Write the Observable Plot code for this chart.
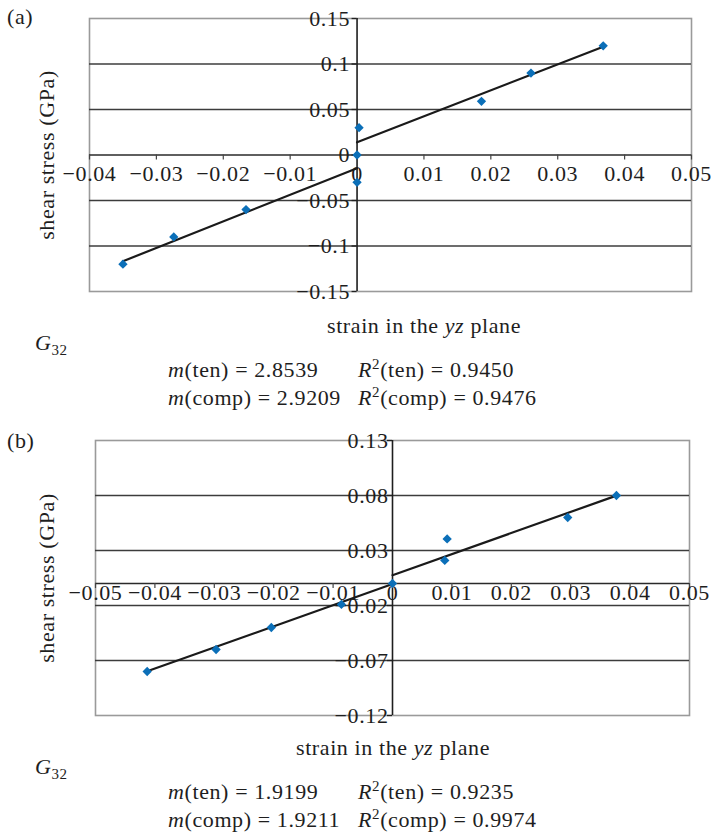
<!DOCTYPE html>
<html>
<head>
<meta charset="utf-8">
<script src="https://cdn.jsdelivr.net/npm/d3@7"></script>
<script src="https://cdn.jsdelivr.net/npm/@observablehq/plot@0.6"></script>
<style>
  html, body { margin: 0; padding: 0; background: #fff; }
  #page { position: relative; width: 711px; height: 832px; font-family: "Liberation Serif", "Times New Roman", "DejaVu Serif", serif; color: #1e1e1e; }
  .t { position: absolute; font-size: 22px; line-height: 22px; white-space: nowrap; letter-spacing: 0.6px; }
  .c { text-align: center; width: 400px; }
  .rot { width: 300px; text-align: center; transform: translate(-50%, -50%) rotate(-90deg); }
  .plot { position: absolute; left: 0; }
  i { font-style: italic; }
  sup, sub { font-size: 15px; line-height: 0; }
</style>
</head>
<body>
<div id="page">
  <div class="t" style="left:7px;top:6px">(a)</div>
  <div class="plot" id="pa" style="top:0px"></div>
  <div class="t rot" style="left:47px;top:155px">shear stress (GPa)</div>
  <div class="t c" style="left:224px;top:315px">strain in the <i>yz</i> plane</div>
  <div class="t" style="left:35px;top:332px"><i>G</i><sub>32</sub></div>
  <div class="t" style="left:168px;top:359px"><i>m</i>(ten) = 2.8539</div>
  <div class="t" style="left:358px;top:359px"><i>R</i><sup>2</sup>(ten) = 0.9450</div>
  <div class="t" style="left:168px;top:387px"><i>m</i>(comp) = 2.9209</div>
  <div class="t" style="left:358px;top:387px"><i>R</i><sup>2</sup>(comp) = 0.9476</div>

  <div class="t" style="left:7px;top:430px">(b)</div>
  <div class="plot" id="pb" style="top:420px"></div>
  <div class="t rot" style="left:47px;top:578px">shear stress (GPa)</div>
  <div class="t c" style="left:193px;top:737px">strain in the <i>yz</i> plane</div>
  <div class="t" style="left:35px;top:756px"><i>G</i><sub>32</sub></div>
  <div class="t" style="left:168px;top:781px"><i>m</i>(ten) = 1.9199</div>
  <div class="t" style="left:358px;top:781px"><i>R</i><sup>2</sup>(ten) = 0.9235</div>
  <div class="t" style="left:168px;top:809px"><i>m</i>(comp) = 1.9211</div>
  <div class="t" style="left:358px;top:809px"><i>R</i><sup>2</sup>(comp) = 0.9974</div>
</div>
<script>
// ---------- Panel (a) data ----------
const xTicksA = [-0.04, -0.03, -0.02, -0.01, 0, 0.01, 0.02, 0.03, 0.04, 0.05];
const xLabelsA = ["−0.04", "−0.03", "−0.02", "−0.01", "0", "0.01", "0.02", "0.03", "0.04", "0.05"];
const yTicksA = [-0.15, -0.1, -0.05, 0, 0.05, 0.1, 0.15];
const yLabelsA = ["−0.15", "−0.1", "−0.05", "0", "0.05", "0.1", "0.15"];
const strainA = [-0.035, -0.0274, -0.0166, 0, 0, 0.0003, 0.0186, 0.026, 0.0368];
const stressA = [-0.12, -0.09, -0.06, -0.03, 0, 0.03, 0.059, 0.09, 0.12];
// fitted lines: slope, intercept, strain range
const fitSlopeA = [2.9209, 2.8539];
const fitInterceptA = [-0.0145, 0.014];
const fitStartA = [-0.035, 0];
const fitEndA = [0, 0.0368];

// ---------- Panel (b) data ----------
const xTicksB = [-0.05, -0.04, -0.03, -0.02, -0.01, 0, 0.01, 0.02, 0.03, 0.04, 0.05];
const xLabelsB = ["−0.05", "−0.04", "−0.03", "−0.02", "−0.01", "0", "0.01", "0.02", "0.03", "0.04", "0.05"];
const yTicksB = [-0.12, -0.07, -0.02, 0.03, 0.08, 0.13];
const yLabelsB = ["−0.12", "−0.07", "−0.02", "0.03", "0.08", "0.13"];
const strainB = [-0.0413, -0.0297, -0.0204, -0.0086, 0, 0.0088, 0.0092, 0.0295, 0.0377];
const stressB = [-0.08, -0.06, -0.04, -0.019, 0, 0.021, 0.0405, 0.060, 0.080];
const fitSlopeB = [1.9211, 1.9199];
const fitInterceptB = [-0.0005, 0.0075];
const fitStartB = [-0.0413, 0];
const fitEndB = [0, 0.0377];

const BLUE = "#0b6fb8";
const FONT = "'Liberation Serif', 'Times New Roman', 'DejaVu Serif', serif";

function panel(o) {
  const pts = o.strain.map((x, i) => ({x, y: o.stress[i]}));
  const fits = o.slope.map((m, i) => [
    {x: o.start[i], y: m * o.start[i] + o.intercept[i], k: i},
    {x: o.end[i], y: m * o.end[i] + o.intercept[i], k: i}
  ]).flat();
  const yDom = [o.yTicks[0], o.yTicks[o.yTicks.length - 1]];
  const grid = o.yTicks.filter(t => t !== 0 && t !== yDom[0] && t !== yDom[1]);
  const yT = o.yTicks.map((v, i) => ({v, s: o.yLabels[i]}));
  const xT = o.xTicks.map((v, i) => ({v, s: o.xLabels[i]}));
  return Plot.plot({
    width: 711,
    height: o.height,
    marginLeft: o.ml, marginRight: o.mr, marginTop: o.mt, marginBottom: o.mb,
    x: {domain: o.xDomain, axis: null},
    y: {domain: yDom, axis: null},
    style: {fontFamily: FONT, fontSize: "22px", letterSpacing: "0.6px", overflow: "visible", background: "transparent"},
    marks: [
      Plot.frame({stroke: "#9a9a9a", strokeWidth: 1.6}),
      Plot.ruleY(grid, {stroke: "#3c3c3c", strokeWidth: 1.4}),
      Plot.ruleY([0], {stroke: "#2a2a2a", strokeWidth: 1.5}),
      Plot.ruleX([0], {stroke: "#1e1e1e", strokeWidth: 1.6}),
      Plot.ruleY(o.yTicks, {y: d => d, x1: () => 0, x2: () => 0, insetLeft: -5, stroke: "#222", strokeWidth: 1.3}),
      Plot.ruleX(o.xTicks, {x: d => d, y1: () => 0, y2: () => 0, insetBottom: -5, stroke: "#444", strokeWidth: 1.2}),
      Plot.text(yT, {x: () => 0, y: "v", text: "s", textAnchor: "end", dx: o.ydx, fill: "#1e1e1e", fontSize: 22}),
      Plot.text(xT, {x: "v", y: () => 0, text: "s", lineAnchor: "top", dy: o.xdy, fill: "#1e1e1e", fontSize: 22}),
      Plot.line(fits, {x: "x", y: "y", z: "k", stroke: "#1a1a1a", strokeWidth: 2.2}),
      Plot.dot(pts, {x: "x", y: "y", symbol: "diamond2", r: 4.2, fill: BLUE, stroke: "none"})
    ]
  });
}

document.getElementById("pa").appendChild(panel({
  height: 300, ml: 89, mr: 20, mt: 18, mb: 9,
  xDomain: [-0.04, 0.05],
  xTicks: xTicksA, xLabels: xLabelsA, yTicks: yTicksA, yLabels: yLabelsA,
  strain: strainA, stress: stressA,
  slope: fitSlopeA, intercept: fitInterceptA, start: fitStartA, end: fitEndA,
  ydx: -7, xdy: 10
}));

document.getElementById("pb").appendChild(panel({
  height: 310, ml: 95, mr: 22, mt: 20, mb: 15,
  xDomain: [-0.05, 0.05],
  xTicks: xTicksB, xLabels: xLabelsB, yTicks: yTicksB, yLabels: yLabelsB,
  strain: strainB, stress: stressB,
  slope: fitSlopeB, intercept: fitInterceptB, start: fitStartB, end: fitEndB,
  ydx: -4, xdy: 1
}));
</script>
</body>
</html>
